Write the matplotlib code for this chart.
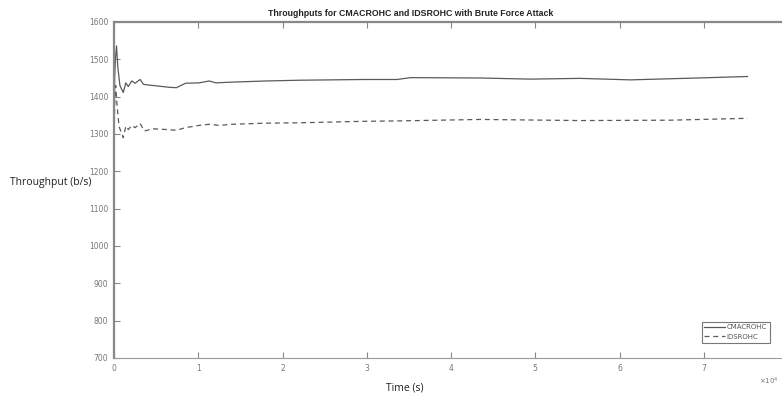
import matplotlib
matplotlib.use('Agg')
import matplotlib.pyplot as plt

# time in units of 1e4 s
t_cm = [0.0, 0.008, 0.018, 0.03, 0.045, 0.07, 0.11, 0.14, 0.17, 0.21, 0.25, 0.31, 0.35,
        0.42, 0.50, 0.58, 0.66, 0.74, 0.85, 1.01, 1.13, 1.21, 1.40, 1.80, 2.19, 2.58,
        2.97, 3.36, 3.52, 4.35, 4.94, 5.53, 6.13, 6.92, 7.52]
v_cm = [1270, 1450, 1505, 1536, 1480, 1430, 1411, 1437, 1427, 1442, 1436, 1446, 1433,
        1431, 1429, 1427, 1425, 1424, 1436, 1437, 1442, 1437, 1439, 1442, 1444, 1445,
        1446, 1446, 1451, 1450, 1447, 1449, 1445, 1450, 1454]

t_ids = [0.0, 0.008, 0.02, 0.035, 0.06, 0.11, 0.14, 0.17, 0.21, 0.25, 0.31, 0.36,
         0.46, 0.62, 0.74, 0.85, 1.01, 1.13, 1.25, 1.40, 1.80, 2.19, 2.58, 2.97, 3.36,
         4.35, 5.53, 6.6, 7.52]
v_ids = [1260, 1380, 1430, 1380, 1320, 1290, 1321, 1312, 1323, 1317, 1328, 1308,
         1314, 1312, 1310, 1317, 1323, 1326, 1323, 1326, 1329, 1330, 1332, 1334, 1335,
         1339, 1336, 1337, 1342]

y_ticks = [700, 800, 900, 1000, 1100, 1200, 1300, 1400, 1500, 1600]
x_ticks = [0, 1, 2, 3, 4, 5, 6, 7]

fig = plt.figure(figsize=(7.82, 3.95), dpi=100)
ax = fig.add_axes([114 / 782, 1 - 358 / 395, 674 / 782, 336 / 395])

ax.plot(t_cm, v_cm, color='#5a5a5a', lw=0.9, label='CMACROHC')
ax.plot(t_ids, v_ids, color='#5a5a5a', lw=0.9, ls=(0, (4, 3)), label='IDSROHC')

ax.set_xlim(0, 8)
ax.set_ylim(700, 1600)
ax.set_xticks(x_ticks)
ax.set_yticks(y_ticks)
ax.tick_params(direction='in', top=True, right=True, length=4, width=0.8,
               color='#888888', labelcolor='#777777', labelsize=5.5, pad=4)
for side in ['left', 'top']:
    ax.spines[side].set_color('#888888')
    ax.spines[side].set_linewidth(1.6)
for side in ['bottom', 'right']:
    ax.spines[side].set_color('#999999')
    ax.spines[side].set_linewidth(0.8)

fig.text(411 / 782, 1 - 13 / 395, 'Throughputs for CMACROHC and IDSROHC with Brute Force Attack',
         ha='center', va='center', fontsize=6.3, fontweight='bold',
         family='Liberation Sans', color='#222222')
fig.text(10 / 782, 1 - 182 / 395, 'Throughput (b/s)', ha='left', va='center',
         fontsize=7.5, family='Open Sans', color='#222222')
fig.text(405 / 782, 1 - 388 / 395, 'Time (s)', ha='center', va='center',
         fontsize=7.5, family='Open Sans', color='#222222')
fig.text(779 / 782, 1 - 381 / 395, '×10$^4$', ha='right', va='center',
         fontsize=5, color='#777777')

leg = ax.legend(loc='lower right', bbox_to_anchor=(773 / 782, 1 - 346 / 395),
                bbox_transform=fig.transFigure, fontsize=5, frameon=True,
                fancybox=False, handlelength=3, handletextpad=0.2,
                borderpad=0.4, labelspacing=0.5)
leg.get_frame().set_edgecolor('#555555')
leg.get_frame().set_linewidth(0.8)
for txt in leg.get_texts():
    txt.set_color('#555555')

fig.savefig('out.png', dpi=100)
